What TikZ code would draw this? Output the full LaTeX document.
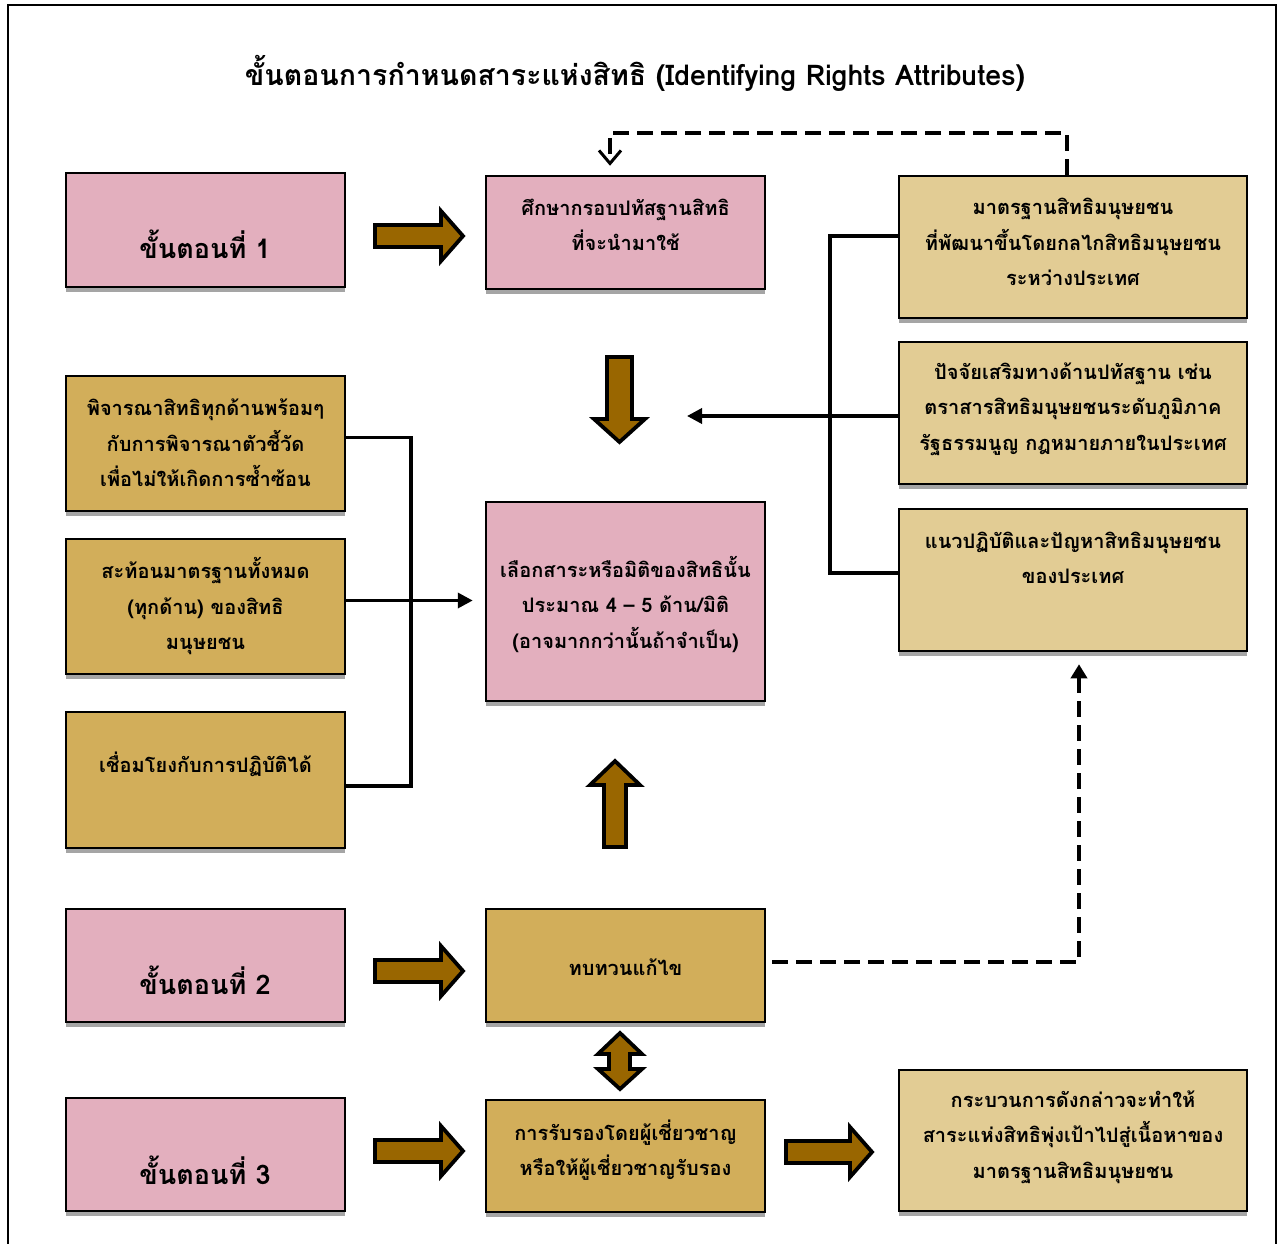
\documentclass[tikz,border=0pt]{standalone}
\usepackage{fontspec}
\setmainfont[Script=Thai]{Loma}
\usetikzlibrary{arrows.meta,shadows}
\definecolor{pinkbox}{RGB}{227,175,190}
\definecolor{goldbox}{RGB}{210,174,90}
\definecolor{tanbox}{RGB}{226,204,148}
\definecolor{arrowfill}{RGB}{153,102,0}
\definecolor{shadowgray}{RGB}{165,165,165}
\tikzset{
  boxbase/.style={draw=black, line width=2.5pt, inner sep=0pt,
    drop shadow={shadow xshift=0pt, shadow yshift=-5pt, fill=shadowgray, opacity=1}},
  pbox/.style={boxbase, fill=pinkbox},
  gbox/.style={boxbase, fill=goldbox},
  tbox/.style={boxbase, fill=tanbox},
  smallw/.style={minimum width=279pt},
  widew/.style={minimum width=348pt},
  txt/.style={align=center, inner sep=0pt, font=\bfseries\fontsize{20}{35.5}\selectfont},
  steptxt/.style={align=center, inner sep=0pt, font=\bfseries\fontsize{27}{30}\selectfont},
  conn/.style={line width=3.5pt},
  dconn/.style={line width=3.5pt, dash pattern=on 16pt off 8pt},
  blockarrow/.style={draw=black, fill=arrowfill, line width=3.8pt, line join=miter},
}
\begin{document}
\begin{tikzpicture}[x=1pt,y=-1pt]
\useasboundingbox (0,0) rectangle (1285,1243);
\fill[white] (0,0) rectangle (1285,1243);
% frame
\draw[line width=2pt] (8,1250) -- (8,5) -- (1276,5) -- (1276,1250);
% title
\node[font=\bfseries\fontsize{28.5}{32}\selectfont, inner sep=0pt] (title) at (635,73) {ขั้นตอนการกำหนดสาระแห่งสิทธิ (Identifying Rights Attributes)};

% step boxes
\node[pbox, smallw, minimum height=114pt] (s1) at (205.5,230) {};
\node[steptxt] (s1t) at (205,244) {ขั้นตอนที่ 1};
\node[pbox, smallw, minimum height=113pt] (s2) at (205.5,965.5) {};
\node[steptxt] (s2t) at (205,980) {ขั้นตอนที่ 2};
\node[pbox, smallw, minimum height=113pt] (s3) at (205.5,1154.5) {};
\node[steptxt] (s3t) at (205,1170) {ขั้นตอนที่ 3};

% centre column
\node[pbox, smallw, minimum height=113pt] (b1) at (625.5,232.5) {};
\node[txt] (b1t) at (625.5,225) {ศึกษากรอบปทัสฐานสิทธิ\\ที่จะนำมาใช้};
\node[pbox, smallw, minimum height=199pt] (cb) at (625.5,601.5) {};
\node[txt] (cbt) at (625.5,604) {เลือกสาระหรือมิติของสิทธินั้น\\ประมาณ 4 – 5 ด้าน/มิติ\\(อาจมากกว่านั้นถ้าจำเป็น)};
\node[gbox, smallw, minimum height=113pt] (rev) at (625.5,965.5) {};
\node[txt] (revt) at (625.5,967) {ทบทวนแก้ไข};
\node[gbox, smallw, minimum height=112pt] (cert) at (625.5,1156) {};
\node[txt] (certt) at (625.5,1150) {การรับรองโดยผู้เชี่ยวชาญ\\หรือให้ผู้เชี่ยวชาญรับรอง};

% left column
\node[gbox, smallw, minimum height=135pt] (lA) at (205.5,443.5) {};
\node[txt] (lAt) at (205.5,443) {พิจารณาสิทธิทุกด้านพร้อมๆ\\กับการพิจารณาตัวชี้วัด\\เพื่อไม่ให้เกิดการซ้ำซ้อน};
\node[gbox, smallw, minimum height=135pt] (lB) at (205.5,606.5) {};
\node[txt] (lBt) at (205.5,606) {สะท้อนมาตรฐานทั้งหมด\\(ทุกด้าน) ของสิทธิ\\มนุษยชน};
\node[gbox, smallw, minimum height=136pt] (lC) at (205.5,780) {};
\node[txt] (lCt) at (205.5,764) {เชื่อมโยงกับการปฏิบัติได้};

% right column
\node[tbox, widew, minimum height=142pt] (tr) at (1073,247) {};
\node[txt] (trt) at (1073,242) {มาตรฐานสิทธิมนุษยชน\\ที่พัฒนาขึ้นโดยกลไกสิทธิมนุษยชน\\ระหว่างประเทศ};
\node[tbox, widew, minimum height=142pt] (mr) at (1073,413) {};
\node[txt] (mrt) at (1073,409) {ปัจจัยเสริมทางด้านปทัสฐาน เช่น\\ตราสารสิทธิมนุษยชนระดับภูมิภาค\\รัฐธรรมนูญ กฎหมายภายในประเทศ};
\node[tbox, widew, minimum height=142pt] (br) at (1073,580) {};
\node[txt] (brt) at (1073,558) {แนวปฏิบัติและปัญหาสิทธิมนุษยชน\\ของประเทศ};
\node[tbox, widew, minimum height=141pt] (fin) at (1073,1140.5) {};
\node[txt] (fint) at (1073,1137) {กระบวนการดังกล่าวจะทำให้\\สาระแห่งสิทธิพุ่งเป้าไปสู่เนื้อหาของ\\มาตรฐานสิทธิมนุษยชน};

% block arrows (right-pointing)
\foreach \c in {236,971,1151}{
  \draw[blockarrow] (375,\c-11) -- (441,\c-11) -- (441,\c-25) -- (463,\c) -- (441,\c+25) -- (441,\c+11) -- (375,\c+11) -- cycle;
}
\draw[blockarrow] (786,1141) -- (850,1141) -- (850,1127) -- (872,1152) -- (850,1177) -- (850,1163) -- (786,1163) -- cycle;
% down arrow
\draw[blockarrow] (607,357) -- (632,357) -- (632,419) -- (645,419) -- (619.5,442) -- (594,419) -- (607,419) -- cycle;
% up arrow
\draw[blockarrow] (604,847) -- (626,847) -- (626,785) -- (640,785) -- (615,761) -- (590,785) -- (604,785) -- cycle;
% double arrow
\draw[blockarrow] (620,1033) -- (642,1054) -- (630,1054) -- (630,1069) -- (642,1069) -- (620,1089) -- (598,1069) -- (609,1069) -- (609,1054) -- (598,1054) -- cycle;

% left bracket
\draw[conn] ([yshift=6pt]lA.east) -| (411,786) -- ([yshift=-6pt]lC.east);
\draw[conn, -{Triangle[length=15pt,width=15pt]}, shorten >=12pt] ([yshift=6pt]lB.east) -- ([yshift=6pt]lB.east -| cb.west);

% right bracket
\coordinate (mrtip) at (687,416);
\draw[conn] ([yshift=11pt]tr.west) -| (830,573) -- ([yshift=7pt]br.west);
\draw[conn, -{Triangle[length=15pt,width=15pt]}] ([yshift=-3pt]mr.west) -- (mrtip);

% dashed feedback (top)
\coordinate (b1in) at ([xshift=-15.5pt,yshift=9pt]b1.north);
\draw[dconn, -{Straight Barb[length=13pt,width=22pt,line width=3pt]}] ([xshift=-6pt]tr.north) -- ++(0,-42) -| (b1in);

% dashed feedback (bottom)
\coordinate (brin) at ([xshift=6pt,yshift=-12pt]br.south);
\draw[dconn, -{Triangle[length=14pt,width=16pt]}] ([xshift=6pt,yshift=3.5pt]rev.east) -| (brin);
\end{tikzpicture}
\end{document}
